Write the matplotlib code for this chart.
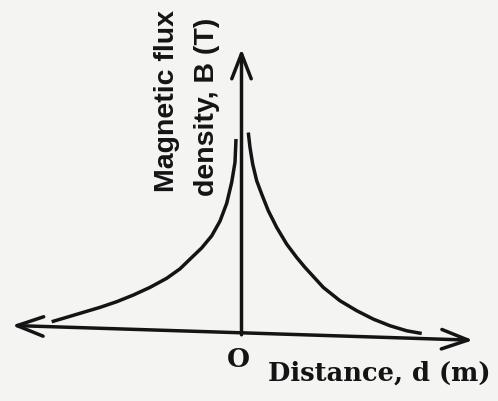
import numpy as np
import matplotlib
matplotlib.use('Agg')
from matplotlib import pyplot as plt
import matplotlib.transforms as mtransforms

d_left = [-0.949, -0.874, -0.791, -0.7075, -0.624, -0.541, -0.4575, -0.374,
          -0.3075, -0.2575, -0.199, -0.149, -0.1075, -0.074, -0.049, -0.0325,
          -0.0275]
B_left = [0.025, 0.0495, 0.077, 0.1045, 0.1355, 0.1715, 0.2125, 0.2605,
          0.31, 0.36, 0.418, 0.48, 0.555, 0.645, 0.751, 0.8515, 0.968]
d_right = [0.034, 0.0425, 0.056, 0.076, 0.101, 0.134, 0.176, 0.226, 0.276,
           0.3175, 0.409, 0.4925, 0.576, 0.659, 0.7425, 0.826, 0.901]
B_right = [1.0025, 0.928, 0.845, 0.7625, 0.6965, 0.6145, 0.5325, 0.4505,
           0.3855, 0.337, 0.24, 0.176, 0.129, 0.0895, 0.059, 0.0365, 0.0255]

ink = '#141414'
paper = '#f4f4f2'

fig = plt.figure(figsize=(4.98, 4.02), dpi=100, facecolor=paper)
ax = fig.add_axes([0, 0, 1, 1])
ax.set_facecolor(paper)
ax.set_xlim(-1.2075, 1.2825)
ax.set_ylim(-0.341, 1.669)
ax.axis('off')

# the d axis droops slightly to the right
skew = mtransforms.Affine2D(np.array([[1.0, 0.0, 0.0],
                                      [-0.032, 1.0, 0.0],
                                      [0.0, 0.0, 1.0]]))
tr = skew + ax.transData

ax.plot(d_left, B_left, color=ink, lw=2.5, transform=tr,
        solid_capstyle='butt', solid_joinstyle='round')
ax.plot(d_right, B_right, color=ink, lw=2.5, transform=tr,
        solid_capstyle='butt', solid_joinstyle='round')

# axes drawn as arrows
ax.annotate('', xy=(1.1575, 0), xytext=(-1.1475, 0), xycoords=tr, textcoords=tr,
            arrowprops=dict(arrowstyle='<->,head_length=0.95,head_width=0.35',
                            lw=2.5, color=ink, mutation_scale=20,
                            shrinkA=0, shrinkB=0))
ax.annotate('', xy=(0, 1.419), xytext=(0, -0.01), xycoords=tr, textcoords=tr,
            arrowprops=dict(arrowstyle='->,head_length=0.9,head_width=0.35',
                            lw=2.5, color=ink, mutation_scale=20,
                            shrinkA=0, shrinkB=0))

sans = ['Liberation Sans', 'DejaVu Sans']
serif = ['DejaVu Serif']

ax.text(-0.3725, 1.164, 'Magnetic flux', rotation=90, ha='center', va='center',
        fontsize=20.5, fontweight='bold', family=sans, color=ink)
ax.text(-0.1725, 1.134, 'density, B (T)', rotation=90, ha='center', va='center',
        fontsize=20.5, fontweight='bold', family=sans, color=ink)
ax.text(-0.0175, -0.131, 'O', ha='center', va='center',
        fontsize=19, fontweight='bold', family=serif, color=ink)
ax.text(0.1325, -0.196, 'Distance, d (m)', ha='left', va='center',
        fontsize=18.5, fontweight='bold', family=serif, color=ink)

plt.savefig('out.png', dpi=100, facecolor=paper)
